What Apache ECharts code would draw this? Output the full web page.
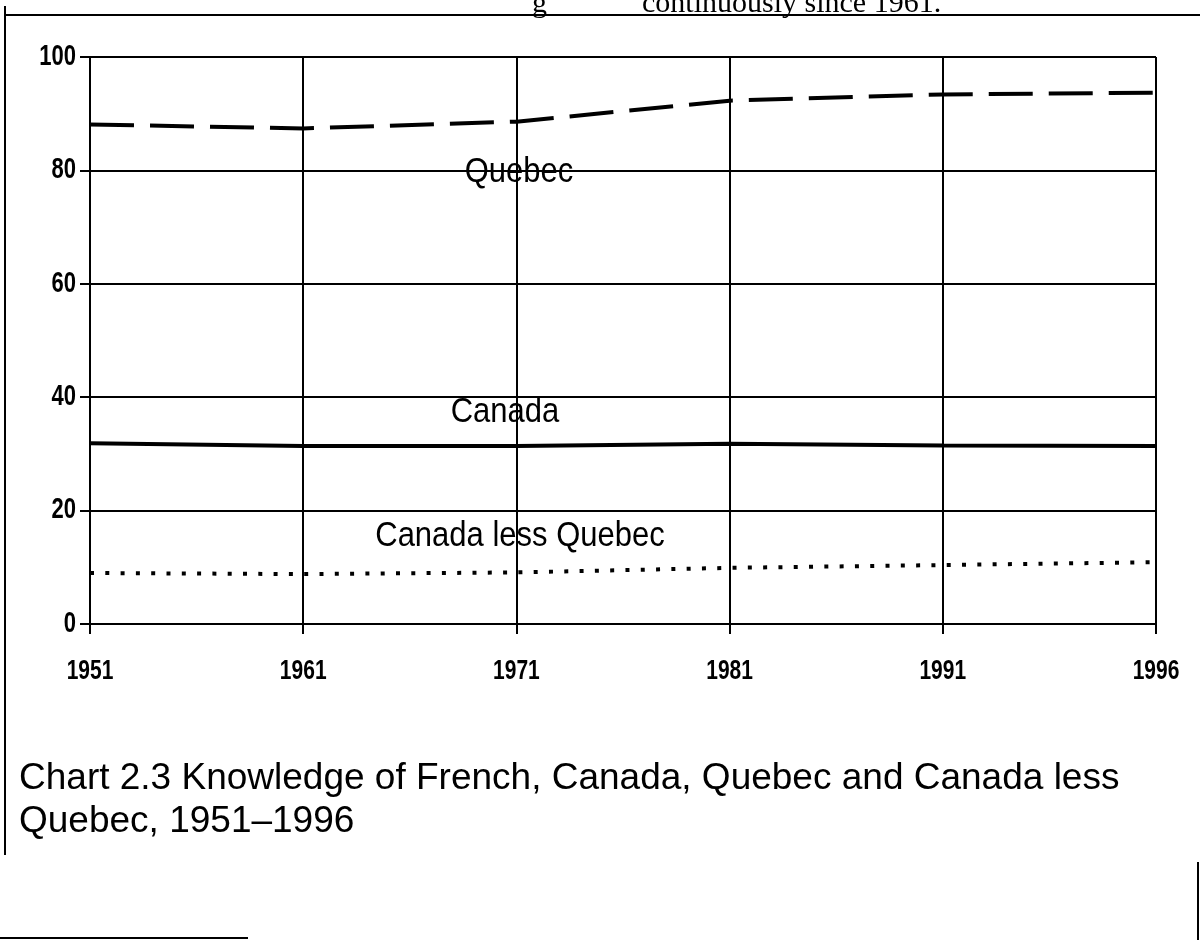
<!DOCTYPE html>
<html>
<head>
<meta charset="utf-8">
<script src="https://cdn.jsdelivr.net/npm/echarts@6/dist/echarts.min.js"></script>
<style>
html,body{margin:0;padding:0;background:#fff;}
#chart{width:1200px;height:940px;}
</style>
</head>
<body>
<div id="chart"></div>
<script>
const years = ['1951', '1961', '1971', '1981', '1991', '1996'];
const quebec = [88.1, 87.4, 88.6, 92.3, 93.4, 93.7];
const canada = [31.9, 31.4, 31.4, 31.8, 31.5, 31.4];
const canadaLessQuebec = [9.0, 8.8, 9.1, 9.9, 10.4, 10.9];
const yTicks = [0, 20, 40, 60, 80, 100];

const chart = echarts.init(document.getElementById('chart'), null, {renderer: 'canvas'});
const sans = "'Liberation Sans', Arial, sans-serif";
const serif = "'Liberation Serif', 'Times New Roman', serif";
const black = '#000';

function seriesLabel(text, x, y) {
  return {
    type: 'text', x: x, y: y, scaleY: 1.12, z: 10,
    style: {text: text, x: 0, y: 0, align: 'center', verticalAlign: 'middle',
      font: '31px ' + sans, fill: black}
  };
}

const baseGraphic = [
  seriesLabel('Quebec', 519, 172),
  seriesLabel('Canada', 505, 412),
  seriesLabel('Canada less Quebec', 520, 536),
  {type: 'text', left: 19, top: 757,
    style: {text: 'Chart 2.3 Knowledge of French, Canada, Quebec and Canada less\nQuebec, 1951–1996',
      font: '37px ' + sans, lineHeight: 43, fill: black}},
  {type: 'text', x: 532, y: 4,
    style: {text: 'g', font: '30px ' + serif, fill: black, verticalAlign: 'middle'}},
  {type: 'text', x: 642, y: 4,
    style: {text: 'continuously since 1961.', font: '30px ' + serif, fill: black, verticalAlign: 'middle'}},
  {type: 'line', shape: {x1: 5, y1: 15, x2: 1200, y2: 15}, style: {stroke: black, lineWidth: 2}},
  {type: 'line', shape: {x1: 5, y1: 6, x2: 5, y2: 855}, style: {stroke: black, lineWidth: 2}},
  {type: 'line', shape: {x1: 1198, y1: 862, x2: 1198, y2: 940}, style: {stroke: black, lineWidth: 2}},
  {type: 'line', shape: {x1: 0, y1: 938, x2: 248, y2: 938}, style: {stroke: black, lineWidth: 2}}
];

const option = {
  animation: false,
  backgroundColor: '#fff',
  grid: {left: 90, right: 44, top: 57, bottom: 316},
  xAxis: {
    type: 'category', data: years, boundaryGap: false,
    axisLine: {show: true, lineStyle: {color: black, width: 2}},
    axisTick: {show: true, length: 10, lineStyle: {color: black, width: 2}},
    splitLine: {show: true, lineStyle: {color: black, width: 2}},
    axisLabel: {show: false}
  },
  yAxis: {
    type: 'value', min: 0, max: 100, interval: 20,
    axisLine: {show: true, lineStyle: {color: black, width: 2}},
    axisTick: {show: true, length: 10, lineStyle: {color: black, width: 2}},
    splitLine: {show: true, lineStyle: {color: black, width: 2}},
    axisLabel: {show: false}
  },
  series: [
    {name: 'Quebec', type: 'line', data: quebec, symbol: 'none', z: 5,
      lineStyle: {color: black, width: 4, type: [44, 16]}},
    {name: 'Canada', type: 'line', data: canada, symbol: 'none', z: 5,
      lineStyle: {color: black, width: 4, type: 'solid'}},
    {name: 'Canada less Quebec', type: 'line', data: canadaLessQuebec, symbol: 'none', z: 5,
      lineStyle: {color: black, width: 4, type: [4, 11.3]}}
  ],
  graphic: baseGraphic
};
chart.setOption(option);

// Tick labels in a condensed look (vertically stretched), placed through the axes' own scales
const tickLabels = [];
years.forEach(function (yr) {
  const p = chart.convertToPixel({xAxisIndex: 0, yAxisIndex: 0}, [yr, 0]);
  tickLabels.push({type: 'text', x: p[0], y: p[1] + 47, scaleY: 1.3,
    style: {text: yr, x: 0, y: 0, align: 'center', verticalAlign: 'middle', font: 'bold 21px ' + sans, fill: black}});
});
yTicks.forEach(function (v) {
  const p = chart.convertToPixel({xAxisIndex: 0, yAxisIndex: 0}, [years[0], v]);
  tickLabels.push({type: 'text', x: p[0] - 14, y: p[1], scaleY: 1.3,
    style: {text: String(v), x: 0, y: 0, align: 'right', verticalAlign: 'middle', font: 'bold 22px ' + sans, fill: black}});
});
chart.setOption({graphic: baseGraphic.concat(tickLabels)});
</script>
</body>
</html>
